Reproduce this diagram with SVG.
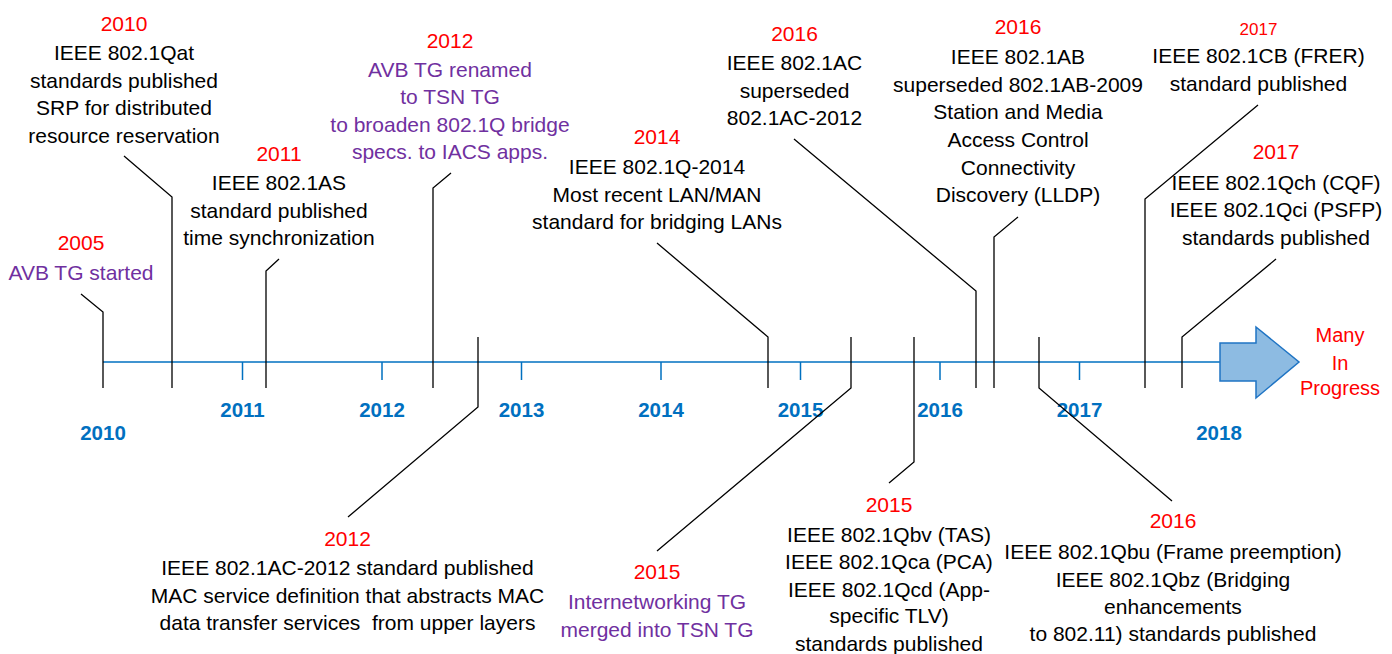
<svg xmlns="http://www.w3.org/2000/svg" width="1392" height="654" viewBox="0 0 1392 654">
<style>
text{font-family:"Liberation Sans",Arial,sans-serif;font-size:21px;text-anchor:middle;fill:#000}
.r{fill:#FF0000}
.p{fill:#7030A0}
.s{font-size:17px}
.m{font-size:20px}
.y{font-weight:bold;fill:#0070C0;font-size:20.5px}
.c{fill:none;stroke:#000;stroke-width:1.3}
.ax{stroke:#0070C0;stroke-width:1.5;fill:none}
</style>
<rect width="1392" height="654" fill="#fff"/>
<g id="axis">
<line class="ax" x1="103" y1="362" x2="1221" y2="362"/>
<path class="ax" d="M242.5,362V380M382,362V380M521.5,362V380M661,362V380M800.5,362V380M940,362V380M1079.5,362V380"/>
<polygon points="1220,343 1256,343 1256,327 1299,362 1256,398 1256,381 1220,381" fill="#8DBBE2" stroke="#1F74C4" stroke-width="1.5"/>
<text class="y" x="103" y="440">2010</text>
<text class="y" x="242.5" y="416.7">2011</text>
<text class="y" x="382" y="416.7">2012</text>
<text class="y" x="521.5" y="416.7">2013</text>
<text class="y" x="661" y="416.7">2014</text>
<text class="y" x="800.5" y="416.7">2015</text>
<text class="y" x="940" y="416.7">2016</text>
<text class="y" x="1079.5" y="416.7">2017</text>
<text class="y" x="1219" y="440">2018</text>
</g>
<g id="connectors">
<path class="c" d="M81,294L103,312V388"/>
<path class="c" d="M124,156L172,197V388"/>
<path class="c" d="M279,259L266,271V388"/>
<path class="c" d="M451,173L433,188V388"/>
<path class="c" d="M657,243L768,337V388"/>
<path class="c" d="M794,139L976,291V388"/>
<path class="c" d="M1018,217L994,237V388"/>
<path class="c" d="M1258,105L1145,199V388"/>
<path class="c" d="M1276,259L1182,337V388"/>
<path class="c" d="M348,517L478,407V337"/>
<path class="c" d="M657,551L851,388V337"/>
<path class="c" d="M889,483L914,462V337"/>
<path class="c" d="M1172,501L1039,388V337"/>
</g>
<g id="n2005">
<text class="r" x="81" y="250">2005</text>
<text class="p" x="81" y="279.5">AVB TG started</text>
</g>
<g id="n2010">
<text class="r" x="124" y="31">2010</text>
<text x="124" y="60">IEEE 802.1Qat</text>
<text x="124" y="87.5">standards published</text>
<text x="124" y="115">SRP for distributed</text>
<text x="124" y="142.5">resource reservation</text>
</g>
<g id="n2011">
<text class="r" x="279" y="161">2011</text>
<text x="279" y="190">IEEE 802.1AS</text>
<text x="279" y="217.5">standard published</text>
<text x="279" y="245">time synchronization</text>
</g>
<g id="n2012a">
<text class="r" x="450" y="47.5">2012</text>
<text class="p" x="450" y="76.5">AVB TG renamed</text>
<text class="p" x="450" y="104">to TSN TG</text>
<text class="p" x="450" y="131.5">to broaden 802.1Q bridge</text>
<text class="p" x="450" y="159">specs. to IACS apps.</text>
</g>
<g id="n2014">
<text class="r" x="657" y="144.3">2014</text>
<text x="657" y="174">IEEE 802.1Q-2014</text>
<text x="657" y="201.5">Most recent LAN/MAN</text>
<text x="657" y="229">standard for bridging LANs</text>
</g>
<g id="n2016a">
<text class="r" x="794.5" y="40.7">2016</text>
<text x="794.5" y="70">IEEE 802.1AC</text>
<text x="794.5" y="97.7">superseded</text>
<text x="794.5" y="125">802.1AC-2012</text>
</g>
<g id="n2016b">
<text class="r" x="1018" y="34.3">2016</text>
<text x="1018" y="64.3">IEEE 802.1AB</text>
<text x="1018" y="91.7">superseded 802.1AB-2009</text>
<text x="1018" y="119.3">Station and Media</text>
<text x="1018" y="146.7">Access Control</text>
<text x="1018" y="174.5">Connectivity</text>
<text x="1018" y="201.7">Discovery (LLDP)</text>
</g>
<g id="n2017a">
<text class="r s" x="1258.5" y="35">2017</text>
<text x="1258.5" y="63.3">IEEE 802.1CB (FRER)</text>
<text x="1258.5" y="90.7">standard published</text>
</g>
<g id="n2017b">
<text class="r" x="1276" y="159.3">2017</text>
<text x="1276" y="190">IEEE 802.1Qch (CQF)</text>
<text x="1276" y="217.3">IEEE 802.1Qci (PSFP)</text>
<text x="1276" y="245">standards published</text>
</g>
<g id="n2012b">
<text class="r" x="347.5" y="546">2012</text>
<text x="347.5" y="575.3">IEEE 802.1AC-2012 standard published</text>
<text x="347.5" y="602.7">MAC service definition that abstracts MAC</text>
<text x="347.5" y="630" xml:space="preserve">data transfer services  from upper layers</text>
</g>
<g id="n2015a">
<text class="r" x="657" y="579.3">2015</text>
<text class="p" x="657" y="609.3">Internetworking TG</text>
<text class="p" x="657" y="636.7">merged into TSN TG</text>
</g>
<g id="n2015b">
<text class="r" x="889" y="511.7">2015</text>
<text x="889" y="541.7">IEEE 802.1Qbv (TAS)</text>
<text x="889" y="569">IEEE 802.1Qca (PCA)</text>
<text x="889" y="596.7">IEEE 802.1Qcd (App-</text>
<text x="889" y="623.3">specific TLV)</text>
<text x="889" y="650.7">standards published</text>
</g>
<g id="n2016c">
<text class="r" x="1173" y="528.3">2016</text>
<text x="1173" y="559.3">IEEE 802.1Qbu (Frame preemption)</text>
<text x="1173" y="586.7">IEEE 802.1Qbz (Bridging</text>
<text x="1173" y="614">enhancements</text>
<text x="1173" y="640.7">to 802.11) standards published</text>
</g>
<g id="nmany">
<text class="r m" x="1340" y="341.7">Many</text>
<text class="r m" x="1340" y="370">In</text>
<text class="r m" x="1340" y="395">Progress</text>
</g>
</svg>
